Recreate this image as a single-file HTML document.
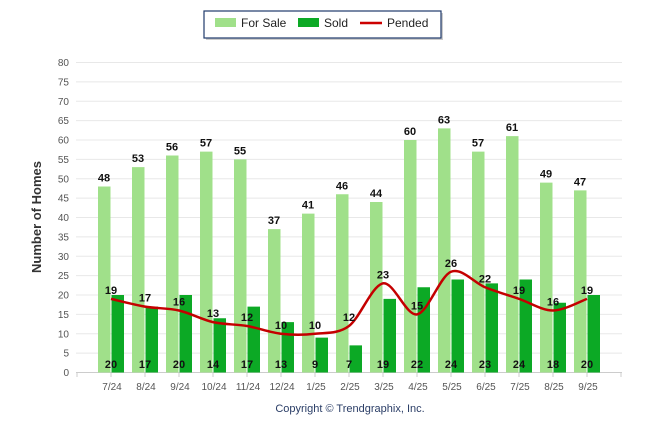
<!DOCTYPE html>
<html><head><meta charset="utf-8"><style>
body{margin:0;background:#fff;width:646px;height:434px;overflow:hidden;font-family:"Liberation Sans",sans-serif}
</style></head><body>
<svg id="chart" width="646" height="434" xmlns="http://www.w3.org/2000/svg" font-family="Liberation Sans, sans-serif">
<g>
<rect x="206" y="13" width="237" height="27" fill="#999" opacity="0.5"/>
<rect x="204" y="11" width="237" height="27" fill="#fff" stroke="#1f3a6b" stroke-width="1.2"/>
<rect x="215" y="18" width="21" height="9" fill="#a0e08a"/>
<text x="241" y="27" font-size="12" fill="#222">For Sale</text>
<rect x="298" y="18" width="21" height="9" fill="#0ca925"/>
<text x="324" y="27" font-size="12" fill="#222">Sold</text>
<line x1="360" y1="23" x2="382" y2="23" stroke="#c00" stroke-width="2.5"/>
<text x="387" y="27" font-size="12" fill="#222">Pended</text>
</g>
<text transform="translate(41,217) rotate(-90)" text-anchor="middle" font-size="13" font-weight="bold" fill="#333">Number of Homes</text>
<text x="350" y="412" text-anchor="middle" font-size="11" fill="#2a3d66">Copyright © Trendgraphix, Inc.</text>
<g id="grid"></g><g id="bars"></g><g id="line"></g><g id="labels"></g>
</svg>
<script>
const categories=["7/24","8/24","9/24","10/24","11/24","12/24","1/25","2/25","3/25","4/25","5/25","6/25","7/25","8/25","9/25"];
const forSale=[48,53,56,57,55,37,41,46,44,60,63,57,61,49,47];
const sold=[20,17,20,14,17,13,9,7,19,22,24,23,24,18,20];
const pended=[19,17,16,13,12,10,10,12,23,15,26,22,19,16,19];
const yTicks=[0,5,10,15,20,25,30,35,40,45,50,55,60,65,70,75,80];
const NS="http://www.w3.org/2000/svg";
const y=v=>372.5-v*3.875;
const x=i=>111+i*34;
function mk(tag,attrs,parent,text){const e=document.createElementNS(NS,tag);for(const k in attrs)e.setAttribute(k,attrs[k]);if(text!=null)e.textContent=text;document.getElementById(parent).appendChild(e);return e;}
yTicks.forEach(t=>{
 const g=mk('line',{x1:76,x2:622,y1:y(t),y2:y(t),stroke:t===0?'#ccc':'#e8e8e8','stroke-width':1},'grid');
 
 
 const l=mk('text',{x:69,y:y(t)+3.5,'text-anchor':'end','font-size':10,fill:'#555'},'grid',t);
 
 
});
for(let k=0;k<=16;k++){const tk=mk('line',{x1:77+34*k,x2:77+34*k,y1:372.5,y2:377,stroke:'#ccc'},'grid');
 
 }
categories.forEach((c,i)=>{
 const b1=mk('rect',{x:x(i)-13,y:y(forSale[i]),width:12.5,height:y(0)-y(forSale[i]),fill:'#a0e08a'},'bars');
 
 
 const b2=mk('rect',{x:x(i)+0.5,y:y(sold[i]),width:12.5,height:y(0)-y(sold[i]),fill:'#0ca925'},'bars');
 
 
 const xl=mk('text',{x:x(i)+1,y:390,'text-anchor':'middle','font-size':10,fill:'#555'},'labels',c);
 
 
 const l1=mk('text',{x:x(i)-7,y:y(forSale[i])-5,'text-anchor':'middle','font-size':11,'font-weight':'bold',fill:'#111'},'labels',forSale[i]);
 
 
 const l2=mk('text',{x:x(i),y:368,'text-anchor':'middle','font-size':11,'font-weight':'bold',fill:'#111'},'labels',sold[i]);
 
 
 const l3=mk('text',{x:x(i),y:y(pended[i])-5,'text-anchor':'middle','font-size':11,'font-weight':'bold',fill:'#111'},'labels',pended[i]);
 
 
});
const pts=pended.map((v,i)=>[x(i),y(v)]);
let d='M'+pts[0][0]+','+pts[0][1];
for(let i=0;i<pts.length-1;i++){
 const p0=pts[Math.max(0,i-1)],p1=pts[i],p2=pts[i+1],p3=pts[Math.min(pts.length-1,i+2)];
 const t=0.16;
 d+=` C${p1[0]+(p2[0]-p0[0])*t},${p1[1]+(p2[1]-p0[1])*t} ${p2[0]-(p3[0]-p1[0])*t},${p2[1]-(p3[1]-p1[1])*t} ${p2[0]},${p2[1]}`;
}
const ln=mk('path',{d:d,fill:'none',stroke:'#c40000','stroke-width':2.5},'line');


</script>
</body></html>
